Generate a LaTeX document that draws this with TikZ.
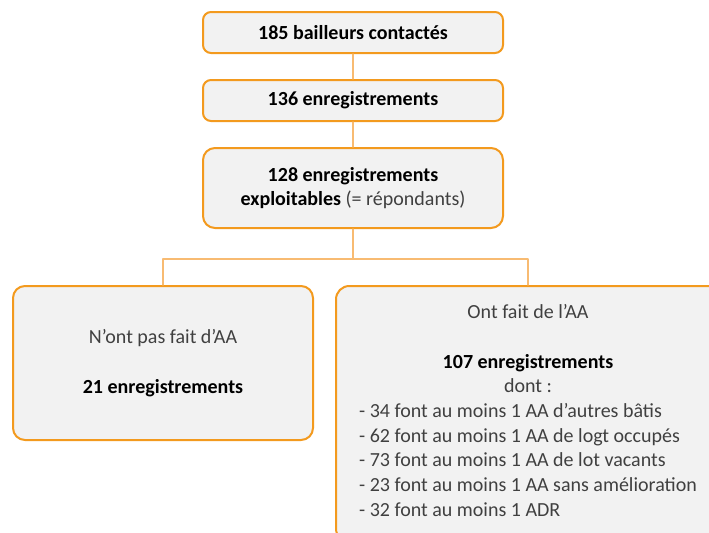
\documentclass[tikz,border=0pt]{standalone}
\usepackage{fontspec}
\setmainfont{Carlito}
\definecolor{orangebord}{HTML}{F39A1E}
\definecolor{orangetrait}{HTML}{F8BB72}
\definecolor{fondgris}{HTML}{F2F2F2}
\definecolor{textegris}{HTML}{404040}
\begin{document}
\begin{tikzpicture}[x=0.75pt,y=-0.75pt,line join=round,line cap=round,font=\fontsize{15}{18.5}\selectfont]
\tikzset{boite/.style={draw=orangebord,line width=1.5pt,fill=fondgris,rounded corners=6pt,align=center,inner sep=0pt,text=black},
	lien/.style={draw=orangetrait,line width=0.8pt}}
\useasboundingbox (0,0) rectangle (709,532);
\clip (0,0) rectangle (709,532);
% etapes du haut
\node[boite,minimum width=225pt,minimum height=30.75pt] (contact) at (353,32.5) {\bfseries 185 bailleurs contactés};
\node[boite,minimum width=225pt,minimum height=30.75pt] (enreg) at (353,100.5) {\bfseries 136 enregistrements};
\node[boite,rounded corners=9pt,minimum width=225pt,minimum height=60pt] (exploit) at (353,188) {\bfseries 128 enregistrements\\ \bfseries exploitables {\mdseries\color{textegris}(= répondants)}};
% les deux groupes
\node[boite,rounded corners=9pt,minimum width=225pt,minimum height=115.5pt] (sansaa) at (163,363) {{\color{textegris}N’ont pas fait d’AA}\\[18.5pt] \bfseries 21 enregistrements};
\node[boite,rounded corners=10pt,minimum width=288pt,minimum height=192pt] (avecaa) at (528,414) {{\color{textegris}Ont fait de l’AA}\\[18.5pt] \bfseries 107 enregistrements\\ {\color{textegris}dont :}\\
	{\color{textegris}\begin{tabular}[t]{@{}l@{}}
	- 34 font au moins 1 AA d’autres bâtis\\
	- 62 font au moins 1 AA de logt occupés\\
	- 73 font au moins 1 AA de lot vacants\\
	- 23 font au moins 1 AA sans amélioration\\
	- 32 font au moins 1 ADR
	\end{tabular}}};
\draw[lien] (contact)--(enreg);
\draw[lien] (enreg)--(exploit);
\draw[lien] (exploit.south)--++(0,30) coordinate (fourche) -| (sansaa.north);
\draw[lien] (fourche)-|(avecaa.north);
\end{tikzpicture}
\end{document}
